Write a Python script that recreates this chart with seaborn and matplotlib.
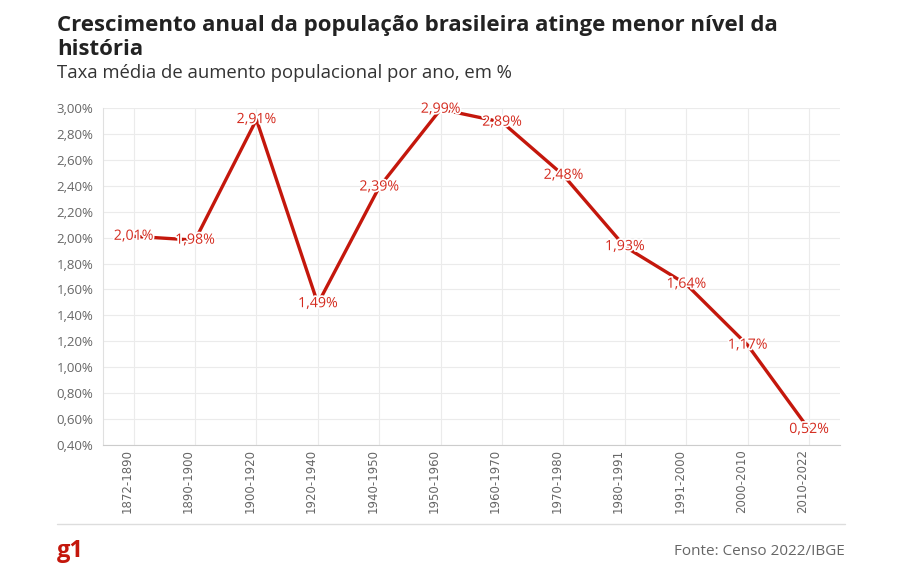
import matplotlib
matplotlib.use("Agg")
import matplotlib.pyplot as plt
import matplotlib.patheffects as pe
import seaborn as sns
from pandas import DataFrame
from matplotlib.ticker import FuncFormatter, MultipleLocator

# dados do censo
periodos = ["1872-1890", "1890-1900", "1900-1920", "1920-1940", "1940-1950",
            "1950-1960", "1960-1970", "1970-1980", "1980-1991", "1991-2000",
            "2000-2010", "2010-2022"]
taxas = [2.01, 1.98, 2.91, 1.49, 2.39, 2.99, 2.89, 2.48, 1.93, 1.64, 1.17, 0.52]

titulo = "Crescimento anual da população brasileira atinge menor nível da\nhistória"
subtitulo = "Taxa média de aumento populacional por ano, em %"
fonte = "Fonte: Censo 2022/IBGE"

VERMELHO = "#c4170c"
CINZA = "#666666"
GRADE = "#ebebeb"

df = DataFrame({"periodo": periodos, "taxa": taxas})

sns.set_style("white")
plt.rcParams["font.family"] = ["Open Sans", "DejaVu Sans"]

fig = plt.figure(figsize=(9.03, 5.74), dpi=100)
ax = fig.add_axes([0.114, 0.2247, 0.816, 0.5873])

sns.lineplot(data=df, x="periodo", y="taxa", sort=False, color=VERMELHO,
             linewidth=2.4, ax=ax, zorder=3)

# rótulos de valor centrados nos pontos
for i, v in enumerate(taxas):
    ax.text(i, v, f"{v:.2f}%".replace(".", ","), ha="center", va="center",
            fontsize=10.2, color="#d42a1e", zorder=4,
            path_effects=[pe.withStroke(linewidth=2.5, foreground="white")])

ax.set_xlim(-0.5, len(periodos) - 0.5)
ax.set_ylim(0.40, 3.00)
ax.yaxis.set_major_locator(MultipleLocator(0.2))
ax.yaxis.set_major_formatter(FuncFormatter(lambda y, p: f"{y:.2f}%".replace(".", ",")))

ax.grid(True, color=GRADE, linewidth=0.8)
ax.set_axisbelow(True)
for s in ["top", "right"]:
    ax.spines[s].set_visible(False)
ax.spines["left"].set_color("#e0e0e0")
ax.spines["bottom"].set_color("#cccccc")

ax.set_xlabel("")
ax.set_ylabel("")
ax.tick_params(axis="y", colors=CINZA, labelsize=9.5, length=4, color="#cccccc", pad=3)
ax.tick_params(axis="x", colors=GRADE, labelcolor=CINZA, labelsize=8.5,
               length=48, width=0.8, pad=-45)
plt.setp(ax.get_xticklabels(), rotation=90, ha="right", va="top",
         family=["DejaVu Sans"])

fig.text(0.063, 0.974, titulo, ha="left", va="top", fontsize=16,
         fontweight="bold", color="#222222", linespacing=1.17)
fig.text(0.063, 0.889, subtitulo, ha="left", va="top", fontsize=13.3,
         color="#333333")

# linha do rodapé
fig.add_artist(plt.Line2D([0.063, 0.936], [0.087, 0.087], color="#dddddd",
                          linewidth=1, transform=fig.transFigure))
fig.text(0.063, 0.04, "g1", ha="left", va="center", fontsize=17,
         fontweight="bold", color=VERMELHO)
fig.text(0.936, 0.04, fonte, ha="right", va="center", fontsize=11,
         color=CINZA)

fig.savefig("out.png", dpi=100)
